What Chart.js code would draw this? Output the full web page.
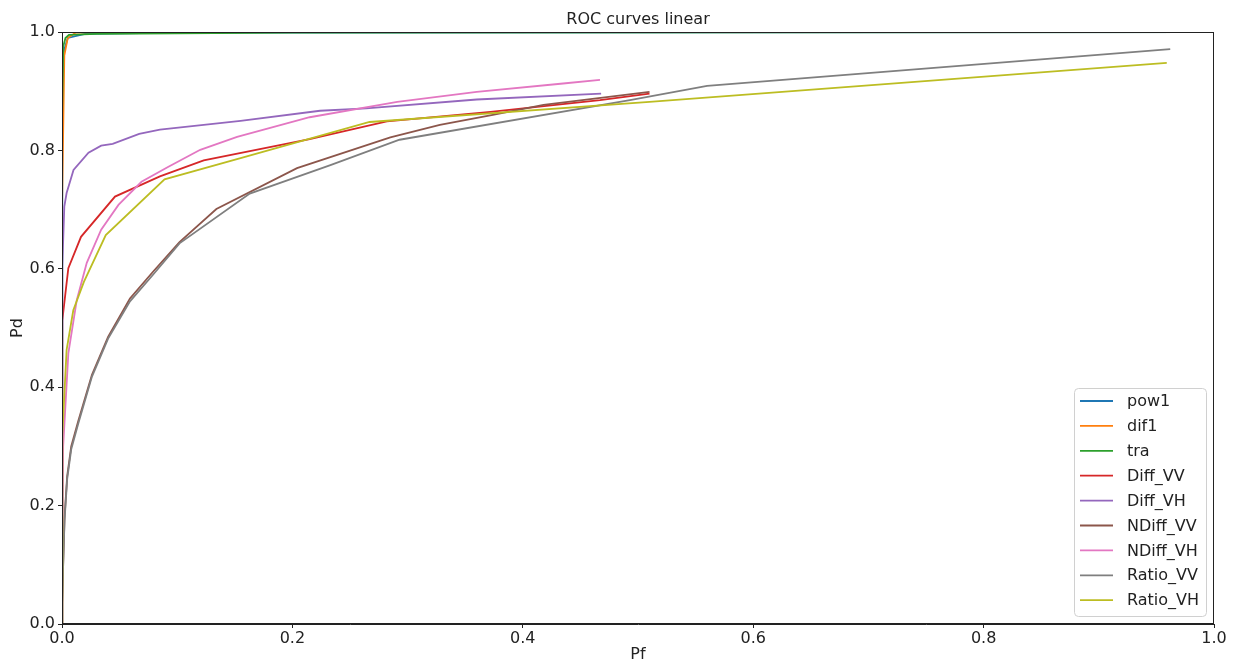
<!DOCTYPE html>
<html>
<head>
<meta charset="utf-8">
<script src="https://cdn.jsdelivr.net/npm/chart.js@4/dist/chart.umd.min.js"></script>
<style>
html,body{margin:0;padding:0;background:#fff;}
#wrap{width:1235px;height:664px;position:relative;}
</style>
</head>
<body>
<div id="wrap"><canvas id="c" width="1235" height="664"></canvas></div>
<script>
const seriesNames = ['pow1','dif1','tra','Diff_VV','Diff_VH','NDiff_VV','NDiff_VH','Ratio_VV','Ratio_VH'];
const seriesColors = ['#1f77b4','#ff7f0e','#2ca02c','#d62728','#9467bd','#8c564b','#e377c2','#7f7f7f','#bcbd22'];
const xTicks = [0, 0.2, 0.4, 0.6, 0.8, 1.0];
const yTicks = [0, 0.2, 0.4, 0.6, 0.8, 1.0];

const pow1Pf = [0, 0, 0.0005, 0.002, 0.005, 0.02, 0.1, 1];
const pow1Pd = [0, 0.6, 0.9, 0.97, 0.99, 0.997, 0.999, 1];
const dif1Pf = [0, 0, 0.002, 0.005, 0.012, 0.04, 1];
const dif1Pd = [0, 0.7, 0.96, 0.99, 0.999, 1, 1];
const traPf = [0, 0, 0.001, 0.003, 0.006, 0.03, 0.2, 1];
const traPd = [0, 0.85, 0.975, 0.99, 0.995, 0.997, 0.999, 1];
const diffVVPf = [0, 0, 0.0005, 0.0055, 0.0165, 0.046, 0.085, 0.123, 0.215, 0.282, 0.372, 0.467, 0.51];
const diffVVPd = [0, 0.45, 0.513, 0.601, 0.654, 0.722, 0.756, 0.783, 0.819, 0.849, 0.865, 0.885, 0.896];
const diffVHPf = [0, 0, 0.0005, 0.002, 0.004, 0.01, 0.023, 0.034, 0.044, 0.067, 0.085, 0.155, 0.224, 0.264, 0.36, 0.468];
const diffVHPd = [0, 0.55, 0.604, 0.705, 0.728, 0.767, 0.796, 0.808, 0.811, 0.828, 0.835, 0.85, 0.867, 0.871, 0.886, 0.896];
const nDiffVVPf = [0, 0, 0.001, 0.0022, 0.0045, 0.008, 0.014, 0.026, 0.04, 0.059, 0.079, 0.102, 0.134, 0.204, 0.285, 0.328, 0.374, 0.418, 0.51];
const nDiffVVPd = [0, 0.03, 0.1, 0.18, 0.25, 0.3, 0.342, 0.421, 0.485, 0.55, 0.595, 0.645, 0.701, 0.77, 0.822, 0.843, 0.86, 0.877, 0.899];
const nDiffVHPf = [0, 0, 0.001, 0.0055, 0.0128, 0.0215, 0.034, 0.049, 0.069, 0.092, 0.12, 0.152, 0.215, 0.291, 0.36, 0.435, 0.467];
const nDiffVHPd = [0, 0.1, 0.3, 0.457, 0.547, 0.61, 0.666, 0.708, 0.747, 0.772, 0.801, 0.823, 0.856, 0.882, 0.899, 0.913, 0.919];
const ratioVVPf = [0, 0, 0.001, 0.0022, 0.0045, 0.008, 0.014, 0.026, 0.04, 0.059, 0.079, 0.102, 0.163, 0.233, 0.293, 0.493, 0.56, 0.962];
const ratioVVPd = [0, 0.03, 0.1, 0.175, 0.245, 0.295, 0.338, 0.418, 0.482, 0.545, 0.59, 0.643, 0.727, 0.775, 0.818, 0.885, 0.909, 0.971];
const ratioVHPf = [0, 0, 0.0006, 0.004, 0.0098, 0.019, 0.038, 0.089, 0.155, 0.267, 0.51, 0.959];
const ratioVHPd = [0, 0.2, 0.32, 0.463, 0.53, 0.578, 0.657, 0.751, 0.787, 0.848, 0.882, 0.948];

const seriesPf = [pow1Pf, dif1Pf, traPf, diffVVPf, diffVHPf, nDiffVVPf, nDiffVHPf, ratioVVPf, ratioVHPf];
const seriesPd = [pow1Pd, dif1Pd, traPd, diffVVPd, diffVHPd, nDiffVVPd, nDiffVHPd, ratioVVPd, ratioVHPd];

const FONT = "'DejaVu Sans', sans-serif";
const N = seriesNames.length;
const datasets = seriesNames.map((name, i) => ({
  label: name,
  data: seriesPf[i].map((x, k) => ({x: x, y: seriesPd[i][k]})),
  borderColor: seriesColors[i],
  backgroundColor: seriesColors[i],
  borderWidth: 1.8,
  pointRadius: 0,
  showLine: true,
  fill: false,
  tension: 0,
  order: N - i
}));

const framePlugin = {
  id: 'frame',
  afterDraw(chart) {
    const ctx = chart.ctx;
    const a = chart.chartArea;
    ctx.save();
    ctx.strokeStyle = '#222';
    ctx.lineWidth = 1;
    ctx.strokeRect(Math.round(a.left) + 0.5, Math.round(a.top) + 0.5, Math.round(a.right - a.left) - 1, Math.round(a.bottom - a.top) - 1);
    // title
    ctx.fillStyle = '#222';
    ctx.font = '16px ' + FONT;
    ctx.textAlign = 'center';
    ctx.textBaseline = 'middle';
    ctx.fillText('ROC curves linear', (a.left + a.right) / 2, 20);
    // legend
    const bx = 1074, by = 388, bw = 132, bh = 228;
    ctx.beginPath();
    if (ctx.roundRect) ctx.roundRect(bx + 0.5, by + 0.5, bw, bh, 4); else ctx.rect(bx + 0.5, by + 0.5, bw, bh);
    ctx.fillStyle = 'rgba(255,255,255,0.85)';
    ctx.fill();
    ctx.strokeStyle = '#d0d0d0';
    ctx.lineWidth = 1;
    ctx.stroke();
    ctx.textAlign = 'left';
    chart.data.datasets.forEach((ds, i) => {
      const y = 401 + i * 24.9;
      ctx.strokeStyle = ds.borderColor;
      ctx.lineWidth = 1.8;
      ctx.beginPath();
      ctx.moveTo(1080, y);
      ctx.lineTo(1113, y);
      ctx.stroke();
      ctx.fillStyle = '#222';
      ctx.font = '16px ' + FONT;
      ctx.fillText(ds.label, 1127, y + 1);
    });
    ctx.restore();
  }
};

new Chart(document.getElementById('c'), {
  type: 'scatter',
  data: { datasets: datasets },
  options: {
    responsive: false,
    animation: false,
    layout: { padding: { top: 32, right: 21, left: 0, bottom: 0 } },
    plugins: { legend: { display: false }, tooltip: { enabled: false }, title: { display: false } },
    scales: {
      x: {
        type: 'linear', min: 0, max: 1,
        afterFit(s) { s.height = 40; },
        afterBuildTicks(s) { s.ticks = xTicks.map(v => ({value: v})); },
        ticks: { color: '#222', font: { family: FONT, size: 16 }, padding: 1, callback: v => v.toFixed(1), maxRotation: 0 },
        grid: { display: true, drawOnChartArea: false, drawTicks: true, tickLength: 4, color: '#222' },
        border: { display: true, color: '#222' },
        title: { display: true, text: 'Pf', color: '#222', font: { family: FONT, size: 16 }, padding: { top: 0, bottom: 0 } }
      },
      y: {
        type: 'linear', min: 0, max: 1,
        afterFit(s) { s.width = 62; },
        afterBuildTicks(s) { s.ticks = yTicks.map(v => ({value: v})); },
        ticks: { color: '#222', font: { family: FONT, size: 16 }, padding: 3, callback: v => v.toFixed(1) },
        grid: { display: true, drawOnChartArea: false, drawTicks: true, tickLength: 4, color: '#222' },
        border: { display: true, color: '#222' },
        title: { display: true, text: 'Pd', color: '#222', font: { family: FONT, size: 16 }, padding: { top: 8, bottom: 0 } }
      }
    }
  },
  plugins: [framePlugin]
});
</script>
</body>
</html>
